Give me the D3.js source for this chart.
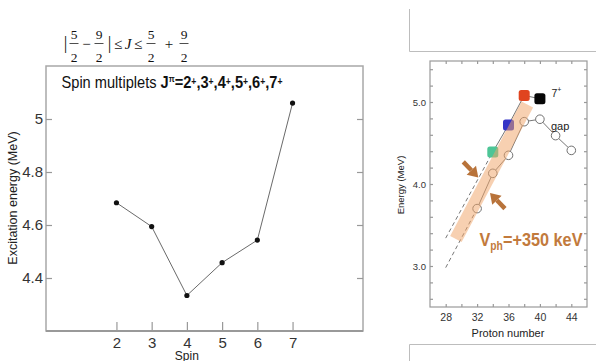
<!DOCTYPE html>
<html>
<head>
<meta charset="utf-8">
<script src="https://cdn.jsdelivr.net/npm/d3@7"></script>
<style>
    body { margin: 0; background: #fff; }
    svg { display: block; }
    text { font-family: "Liberation Sans", Arial, sans-serif; }
</style>
</head>
<body>
<script>
// left panel: spin multiplet energies
const spins = [2, 3, 4, 5, 6, 7];
const excitationEnergy = [4.684, 4.594, 4.334, 4.458, 4.543, 5.06];
const spinTicks = [2, 3, 4, 5, 6, 7];
const excitationTicks = [4.4, 4.6, 4.8, 5];

// right panel: energy vs proton number
const gapProton = [32, 34, 36, 38, 40, 42, 44];
const gapEnergy = [3.70, 4.13, 4.35, 4.76, 4.79, 4.59, 4.41];
const stateProton = [34, 36, 38, 40];
const stateEnergy = [4.39, 4.72, 5.08, 5.04];
const stateColors = ['#4dc596', '#3434c6', '#e0441f', '#070707'];
const gapDashed = [[28, 2.98], [32, 3.70]];
const stateDashed = [[28, 3.34], [34, 4.39]];
const bandEnds = [[29.3, 3.33], [38.4, 4.97]];
const arrows = [
    [[30.24, 4.27], [32.15, 4.08]],
    [[35.55, 3.70], [33.64, 3.89]]
];
const protonTicks = [28, 30, 32, 34, 36, 38, 40, 42, 44];
const protonLabels = [28, 32, 36, 40, 44];
const energyTicks = [2.6, 2.8, 3.0, 3.2, 3.4, 3.6, 3.8, 4.0, 4.2, 4.4, 4.6, 4.8, 5.0, 5.2, 5.4];
const energyLabels = [3.0, 4.0, 5.0];

const svg = d3.select('body').append('svg')
    .attr('width', 596)
    .attr('height', 361);

(function init() {
    drawFormula();
    drawSpinChart();
    drawProtonChart();
    drawBoxes();
})();

function styleAxis(g, color, size) {
    g.select('.domain').remove();
    g.selectAll('.tick line').attr('stroke', color).attr('stroke-width', 1.2);
    g.selectAll('.tick text').attr('fill', '#333').attr('font-size', size)
        .attr('font-family', '"Liberation Sans", Arial, sans-serif');
}

function drawFormula() {
    const g = svg.append('g').attr('fill', '#111');
    const serif = '"Liberation Serif", "Times New Roman", serif';
    const frac = (cx, num, den) => {
        g.append('text').attr('x', cx).attr('y', 38.5).attr('text-anchor', 'middle')
            .attr('font-size', 13.5).style('font-family', serif).text(num);
        g.append('text').attr('x', cx).attr('y', 61.5).attr('text-anchor', 'middle')
            .attr('font-size', 13.5).style('font-family', serif).text(den);
        g.append('line').attr('x1', cx - 4.5).attr('x2', cx + 4.5).attr('y1', 43.5).attr('y2', 43.5)
            .attr('stroke', '#222').attr('stroke-width', 0.8);
    };
    const sym = (x, s, size, italic) => {
        g.append('text').attr('x', x).attr('y', 49).attr('text-anchor', 'middle')
            .attr('font-size', size).attr('font-style', italic ? 'italic' : null)
            .style('font-family', serif).text(s);
    };
    sym(65.5, '|', 18);
    frac(74, '5', '2');
    sym(86.5, '−', 15);
    frac(99, '9', '2');
    sym(109.5, '|', 18);
    sym(118, '≤', 15);
    sym(128, 'J', 15, true);
    sym(138, '≤', 15);
    frac(151, '5', '2');
    sym(169, '+', 15);
    frac(184, '9', '2');
}

function drawSpinChart() {
    const x = d3.scaleLinear().domain([0, 9]).range([46, 363]);
    const y = d3.scaleLinear().domain([4.2, 5.2]).range([331, 66]);
    const g = svg.append('g');

    g.append('rect')
        .attr('x', x(0)).attr('y', y(5.2))
        .attr('width', x(9) - x(0)).attr('height', y(4.2) - y(5.2))
        .attr('fill', 'none').attr('stroke', '#a8a8a8').attr('stroke-width', 1.5);
    g.append('line')
        .attr('x1', x(0)).attr('x2', x(9)).attr('y1', y(4.2)).attr('y2', y(4.2))
        .attr('stroke', '#999').attr('stroke-width', 2);

    g.append('g').attr('transform', `translate(${x(0)},0)`)
        .call(d3.axisLeft(y).tickValues(excitationTicks).tickSizeInner(-6).tickSizeOuter(0)
            .tickPadding(3).tickFormat(d => String(d)))
        .call(a => styleAxis(a, '#999', 15));
    g.append('g').attr('transform', `translate(${x(9)},0)`)
        .call(d3.axisRight(y).tickValues(excitationTicks).tickSizeInner(-6).tickSizeOuter(0).tickFormat(''))
        .call(a => styleAxis(a, '#999', 15));
    g.append('g').attr('transform', `translate(0,${y(4.2)})`)
        .call(d3.axisBottom(x).tickValues(spinTicks).tickSizeInner(-9).tickSizeOuter(0)
            .tickPadding(6).tickFormat(d => String(d)))
        .call(a => styleAxis(a, '#999', 15));

    const pts = spins.map((s, i) => [s, excitationEnergy[i]]);
    g.append('path')
        .datum(pts)
        .attr('d', d3.line().x(d => x(d[0])).y(d => y(d[1])))
        .attr('fill', 'none').attr('stroke', '#6a6a6a').attr('stroke-width', 1);
    g.selectAll('circle.pt').data(pts).join('circle')
        .attr('class', 'pt')
        .attr('cx', d => x(d[0])).attr('cy', d => y(d[1])).attr('r', 2.6)
        .attr('fill', '#111');

    const title = g.append('text').attr('x', 61.5).attr('y', 88)
        .attr('font-size', 17).attr('fill', '#111')
        .attr('textLength', 221).attr('lengthAdjust', 'spacingAndGlyphs');
    title.append('tspan').text('Spin multiplets ');
    title.append('tspan').attr('font-weight', 'bold').text('J');
    title.append('tspan').attr('font-weight', 'bold').attr('font-size', 9).attr('dy', -6).text('π');
    title.append('tspan').attr('font-weight', 'bold').attr('dy', 6).text('=');
    spinTicks.forEach((s, i) => {
        title.append('tspan').attr('font-weight', 'bold').attr('dy', i === 0 ? 0 : 3).text((i ? ',' : '') + s);
        title.append('tspan').attr('font-weight', 'bold').attr('font-size', 10).attr('dy', -3).text('+');
    });

    g.append('text')
        .attr('transform', 'translate(16.5,198) rotate(-90)')
        .attr('text-anchor', 'middle').attr('font-size', 12.5).attr('fill', '#222')
        .text('Excitation energy (MeV)');
    g.append('text')
        .attr('x', x(4)).attr('y', 360)
        .attr('text-anchor', 'middle').attr('font-size', 12).attr('fill', '#222')
        .text('Spin');
}

function drawProtonChart() {
    const x = d3.scaleLinear().domain([26, 46]).range([430, 587]);
    const y = d3.scaleLinear().domain([2.5, 5.5]).range([307, 61]);
    const g = svg.append('g');

    g.append('rect')
        .attr('x', x(26)).attr('y', y(5.5))
        .attr('width', x(46) - x(26)).attr('height', y(2.5) - y(5.5))
        .attr('fill', 'none').attr('stroke', '#9a9a9a').attr('stroke-width', 1.2);

    const fmt = d => energyLabels.includes(d) ? d.toFixed(1) : '';
    g.append('g').attr('transform', `translate(${x(26)},0)`)
        .call(d3.axisLeft(y).tickValues(energyTicks).tickSizeInner(-3).tickSizeOuter(0)
            .tickPadding(4).tickFormat(fmt))
        .call(a => styleAxis(a, '#999', 9.5));
    g.append('g').attr('transform', `translate(${x(46)},0)`)
        .call(d3.axisRight(y).tickValues(energyTicks).tickSizeInner(-3).tickSizeOuter(0).tickFormat(''))
        .call(a => styleAxis(a, '#999', 9.5));
    g.append('g').attr('transform', `translate(0,${y(2.5)})`)
        .call(d3.axisBottom(x).tickValues(protonTicks).tickSizeInner(-3).tickSizeOuter(0)
            .tickPadding(7).tickFormat(d => protonLabels.includes(d) ? String(d) : ''))
        .call(a => styleAxis(a, '#999', 10.5));
    g.append('g').attr('transform', `translate(0,${y(5.5)})`)
        .call(d3.axisTop(x).tickValues(protonTicks).tickSizeInner(-3).tickSizeOuter(0).tickFormat(''))
        .call(a => styleAxis(a, '#999', 10.5));

    const line = d3.line().x(d => x(d[0])).y(d => y(d[1]));

    g.append('path').datum(gapDashed).attr('d', line)
        .attr('fill', 'none').attr('stroke', '#777').attr('stroke-width', 1).attr('stroke-dasharray', '4,3');
    g.append('path').datum(stateDashed).attr('d', line)
        .attr('fill', 'none').attr('stroke', '#777').attr('stroke-width', 1).attr('stroke-dasharray', '4,3');

    const gapPts = gapProton.map((z, i) => [z, gapEnergy[i]]);
    g.append('path').datum(gapPts).attr('d', line)
        .attr('fill', 'none').attr('stroke', '#777').attr('stroke-width', 1);
    g.selectAll('circle.gap').data(gapPts).join('circle')
        .attr('class', 'gap')
        .attr('cx', d => x(d[0])).attr('cy', d => y(d[1])).attr('r', 4.3)
        .attr('fill', '#fff').attr('stroke', '#707070').attr('stroke-width', 1);

    const statePts = stateProton.map((z, i) => [z, stateEnergy[i], stateColors[i]]);
    g.append('path').datum(statePts).attr('d', line)
        .attr('fill', 'none').attr('stroke', '#777').attr('stroke-width', 1);
    g.selectAll('rect.state').data(statePts).join('rect')
        .attr('class', 'state')
        .attr('x', d => x(d[0]) - 5.5).attr('y', d => y(d[1]) - 5.5)
        .attr('width', 11).attr('height', 11).attr('rx', 2.5)
        .attr('fill', d => d[2]);

    // shaded band
    g.append('path').datum(bandEnds).attr('d', line)
        .attr('fill', 'none').attr('stroke', '#f0a46a').attr('stroke-opacity', 0.52)
        .attr('stroke-width', 13);

    // arrows
    arrows.forEach(([tail, head]) => {
        const x0 = x(tail[0]), y0 = y(tail[1]), x1 = x(head[0]), y1 = y(head[1]);
        const len = Math.hypot(x1 - x0, y1 - y0);
        const ux = (x1 - x0) / len, uy = (y1 - y0) / len;
        const bx = x1 - ux * 10, by = y1 - uy * 10;
        g.append('line').attr('x1', x0).attr('y1', y0).attr('x2', bx).attr('y2', by)
            .attr('stroke', '#b8733a').attr('stroke-width', 4.5);
        g.append('path')
            .attr('d', `M${x1},${y1}L${bx - uy * 6.5},${by + ux * 6.5}L${bx + uy * 6.5},${by - ux * 6.5}Z`)
            .attr('fill', '#b8733a');
    });

    const vph = g.append('text').attr('x', 479.5).attr('y', 246)
        .attr('font-size', 19).attr('font-weight', 'bold').attr('fill', '#c27a3c')
        .attr('textLength', 103).attr('lengthAdjust', 'spacingAndGlyphs');
    vph.append('tspan').text('V');
    vph.append('tspan').attr('font-size', 12).attr('dy', 4).text('ph');
    vph.append('tspan').attr('dy', -4).text('=+350 keV');

    const seven = g.append('text').attr('x', 551.5).attr('y', 97)
        .attr('font-size', 10.5).attr('fill', '#222');
    seven.append('tspan').text('7');
    seven.append('tspan').attr('font-size', 7).attr('dy', -5).text('+');
    g.append('text').attr('x', 551).attr('y', 130)
        .attr('font-size', 11).attr('fill', '#222').text('gap');

    g.append('text')
        .attr('transform', 'translate(404,185) rotate(-90)')
        .attr('text-anchor', 'middle').attr('font-size', 9.5).attr('fill', '#222')
        .text('Energy (MeV)');
    g.append('text')
        .attr('x', 508).attr('y', 337)
        .attr('text-anchor', 'middle').attr('font-size', 11).attr('fill', '#222')
        .text('Proton number');
}

function drawBoxes() {
    svg.append('path')
        .attr('d', 'M409.5,9V51.5H596')
        .attr('fill', 'none').attr('stroke', '#bdbdbd').attr('stroke-width', 1);
    svg.append('path')
        .attr('d', 'M409.5,361V344.5H596')
        .attr('fill', 'none').attr('stroke', '#bdbdbd').attr('stroke-width', 1);
}
</script>
</body>
</html>
